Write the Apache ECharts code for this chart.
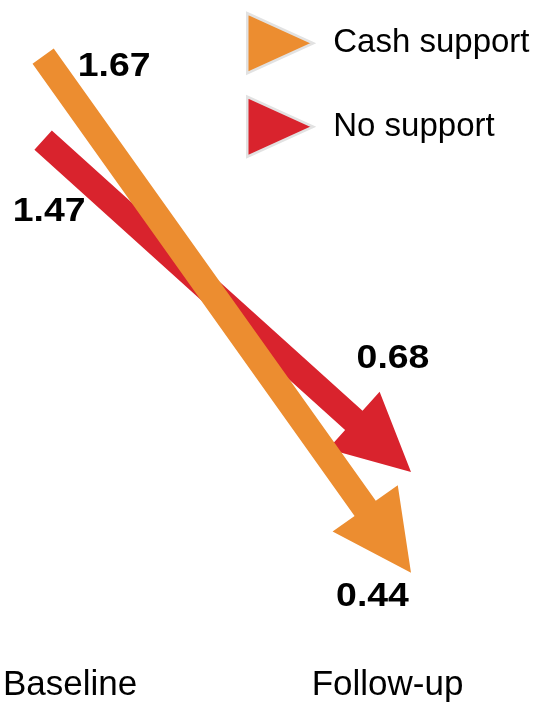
<!DOCTYPE html>
<html>
<head>
<meta charset="utf-8">
<script src="https://cdn.jsdelivr.net/npm/echarts@6/dist/echarts.min.js"></script>
<style>
html,body{margin:0;padding:0;background:#fff;}
#chart{width:541px;height:703px;}
</style>
</head>
<body>
<div id="chart"></div>
<script>
// ---- data ----
var categories = ['Baseline', 'Follow-up'];
var seriesNames = ['Cash support', 'No support'];
var cashSupport = [1.67, 0.44];
var noSupport = [1.47, 0.68];

var FONT = '"Liberation Sans", Arial, Helvetica, sans-serif';
var ORANGE = '#EC8D30';
var RED = '#D9232D';

function arrowRenderer(cfg) {
  return function (params, api) {
    var p0 = api.coord([api.value(0), api.value(1)]);
    var p1 = api.coord([api.value(2), api.value(3)]);
    var dx = p1[0] - p0[0], dy = p1[1] - p0[1];
    var len = Math.sqrt(dx * dx + dy * dy);
    var ux = dx / len, uy = dy / len;
    var nx = -uy, ny = ux;
    var bx = p1[0] - cfg.headLen * ux, by = p1[1] - cfg.headLen * uy;
    var w = cfg.shaft / 2, h = cfg.headW / 2;
    var pts = [
      [p0[0] + nx * w, p0[1] + ny * w],
      [bx + nx * w, by + ny * w],
      [bx + nx * h, by + ny * h],
      [p1[0], p1[1]],
      [bx - nx * h, by - ny * h],
      [bx - nx * w, by - ny * w],
      [p0[0] - nx * w, p0[1] - ny * w]
    ];
    var labelFont = 'bold 34px ' + FONT;
    return {
      type: 'group',
      children: [
        { type: 'polygon', shape: { points: pts }, style: { fill: cfg.color } },
        { type: 'text', x: p0[0] + cfg.startOff[0], y: p0[1] + cfg.startOff[1], scaleX: 1.1, z2: 10,
          style: { text: api.value(1).toFixed(2), font: labelFont, fill: '#000',
                   align: 'center', verticalAlign: 'middle', textAlign: 'center', textVerticalAlign: 'middle' } },
        { type: 'text', x: p1[0] + cfg.endOff[0], y: p1[1] + cfg.endOff[1], scaleX: 1.1, z2: 10,
          style: { text: api.value(3).toFixed(2), font: labelFont, fill: '#000',
                   align: 'center', verticalAlign: 'middle', textAlign: 'center', textVerticalAlign: 'middle' } }
      ]
    };
  };
}

var chart = echarts.init(document.getElementById('chart'), null, { renderer: 'canvas' });
chart.setOption({
  backgroundColor: '#fff',
  animation: false,
  legend: {
    orient: 'vertical',
    left: 246,
    top: 12,
    padding: 0,
    itemWidth: 66,
    itemHeight: 60,
    itemGap: 21,
    data: [
      { name: seriesNames[0], icon: 'path://M0,0L66,30L0,60Z' },
      { name: seriesNames[1], icon: 'path://M0,0L66,30L0,60Z' }
    ],
    itemStyle: { borderColor: '#e2e2e2', borderWidth: 2.5 },
    textStyle: { fontSize: 33, fontFamily: FONT, color: '#000', padding: [0, 0, 0, 15] },
    selectedMode: false
  },
  grid: { left: 41, right: 130, top: 1.5, bottom: 50.5, containLabel: false },
  xAxis: {
    type: 'category',
    boundaryGap: false,
    data: [
      { value: categories[0], textStyle: { padding: [0, 0, 0, 54] } },
      { value: categories[1], textStyle: { padding: [0, 47, 0, 0] } }
    ],
    axisLine: { show: false },
    axisTick: { show: false },
    splitLine: { show: false },
    axisLabel: { interval: 0, margin: 15, fontSize: 35, fontFamily: FONT, color: '#000' }
  },
  yAxis: {
    type: 'value',
    min: 0.25,
    max: 1.8,
    show: false,
    splitLine: { show: false }
  },
  series: [
    {
      name: seriesNames[1],
      type: 'custom',
      z: 2,
      itemStyle: { color: RED },
      encode: { x: [0, 2], y: [1, 3] },
      data: [[0, noSupport[0], 1, noSupport[1]]],
      renderItem: arrowRenderer({ color: RED, shaft: 26, headLen: 77, headW: 77, startOff: [6, 72], endOff: [-18, -113] })
    },
    {
      name: seriesNames[0],
      type: 'custom',
      z: 3,
      itemStyle: { color: ORANGE },
      encode: { x: [0, 2], y: [1, 3] },
      data: [[0, cashSupport[0], 1, cashSupport[1]]],
      renderItem: arrowRenderer({ color: ORANGE, shaft: 26, headLen: 79, headW: 80, startOff: [71, 11], endOff: [-38.5, 24] })
    }
  ]
});
</script>
</body>
</html>
